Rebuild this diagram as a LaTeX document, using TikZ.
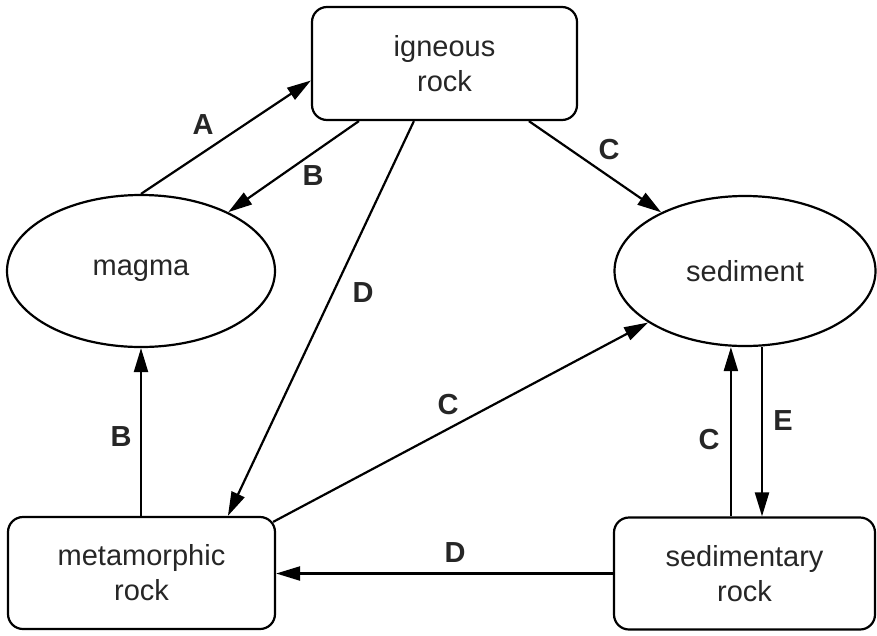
\documentclass[tikz,border=0pt]{standalone}
\usepackage{fontspec}
\setmainfont{Liberation Sans}
\usetikzlibrary{arrows.meta,shapes.geometric,calc}
\begin{document}
\begin{tikzpicture}[x=1pt,y=-1pt,
  every node/.style={font=\fontsize{29}{35}\selectfont, text=black!85},
  rbox/.style={draw, line width=2.2pt, rounded corners=15pt, align=center, inner sep=0pt},
  oval/.style={draw, ellipse, line width=2.2pt, inner sep=0pt},
  conn/.style={line width=2.2pt, -{Triangle[length=24pt,width=14pt]}},
  lbl/.style={font=\fontsize{29}{35}\selectfont\bfseries}
]
\useasboundingbox (0,0) rectangle (877,635);
\node[rbox, minimum width=265pt, minimum height=113pt] (ign) at (444.5,63.5) {igneous\\rock};
\node[oval, minimum width=268pt, minimum height=152pt] (mag) at (141,271) {magma};
\node[oval, minimum width=261pt, minimum height=150pt] (sed) at (745,271) {sediment};
\node[rbox, minimum width=267pt, minimum height=112pt] (met) at (141.5,573) {metamorphic\\rock};
\node[rbox, minimum width=261pt, minimum height=112pt] (sdr) at (744.5,573.5) {sedimentary\\rock};

\draw[conn] (mag.north) -- ($(ign.west)+(0,17)$);
\draw[conn] ($(ign.south west)+(48,0)$) -- (mag.34);
\draw[conn] ($(ign.south west)+(218,0)$) -- (sed.145);
\draw[conn] ($(ign.south west)+(103,0)$) -- ($(met.north west)+(221,0)$);
\draw[conn] (mag.south |- met.north) -- (mag.south);
\draw[conn] ($(met.north east)+(-3,6)$) -- (sed.208);
\draw[conn] ($(sdr.north west)+(118,0)$) coordinate (c1) -- (c1 |- sed.south);
\draw[conn] ($(sed.south)+(17,0)$) coordinate (e1) -- (e1 |- sdr.north);
\draw[conn] (sdr.west) -- (met.east |- sdr.west);

\node[lbl] (la) at (203,125) {A};
\node[lbl] (lb1) at (313,176) {B};
\node[lbl] (lc1) at (609,150) {C};
\node[lbl] (ld1) at (363,293) {D};
\node[lbl] (lb2) at (121,437) {B};
\node[lbl] (lc2) at (448,405) {C};
\node[lbl] (lc3) at (709,440) {C};
\node[lbl] (le) at (783,421) {E};
\node[lbl] (ld2) at (455,553) {D};
\end{tikzpicture}
\end{document}
